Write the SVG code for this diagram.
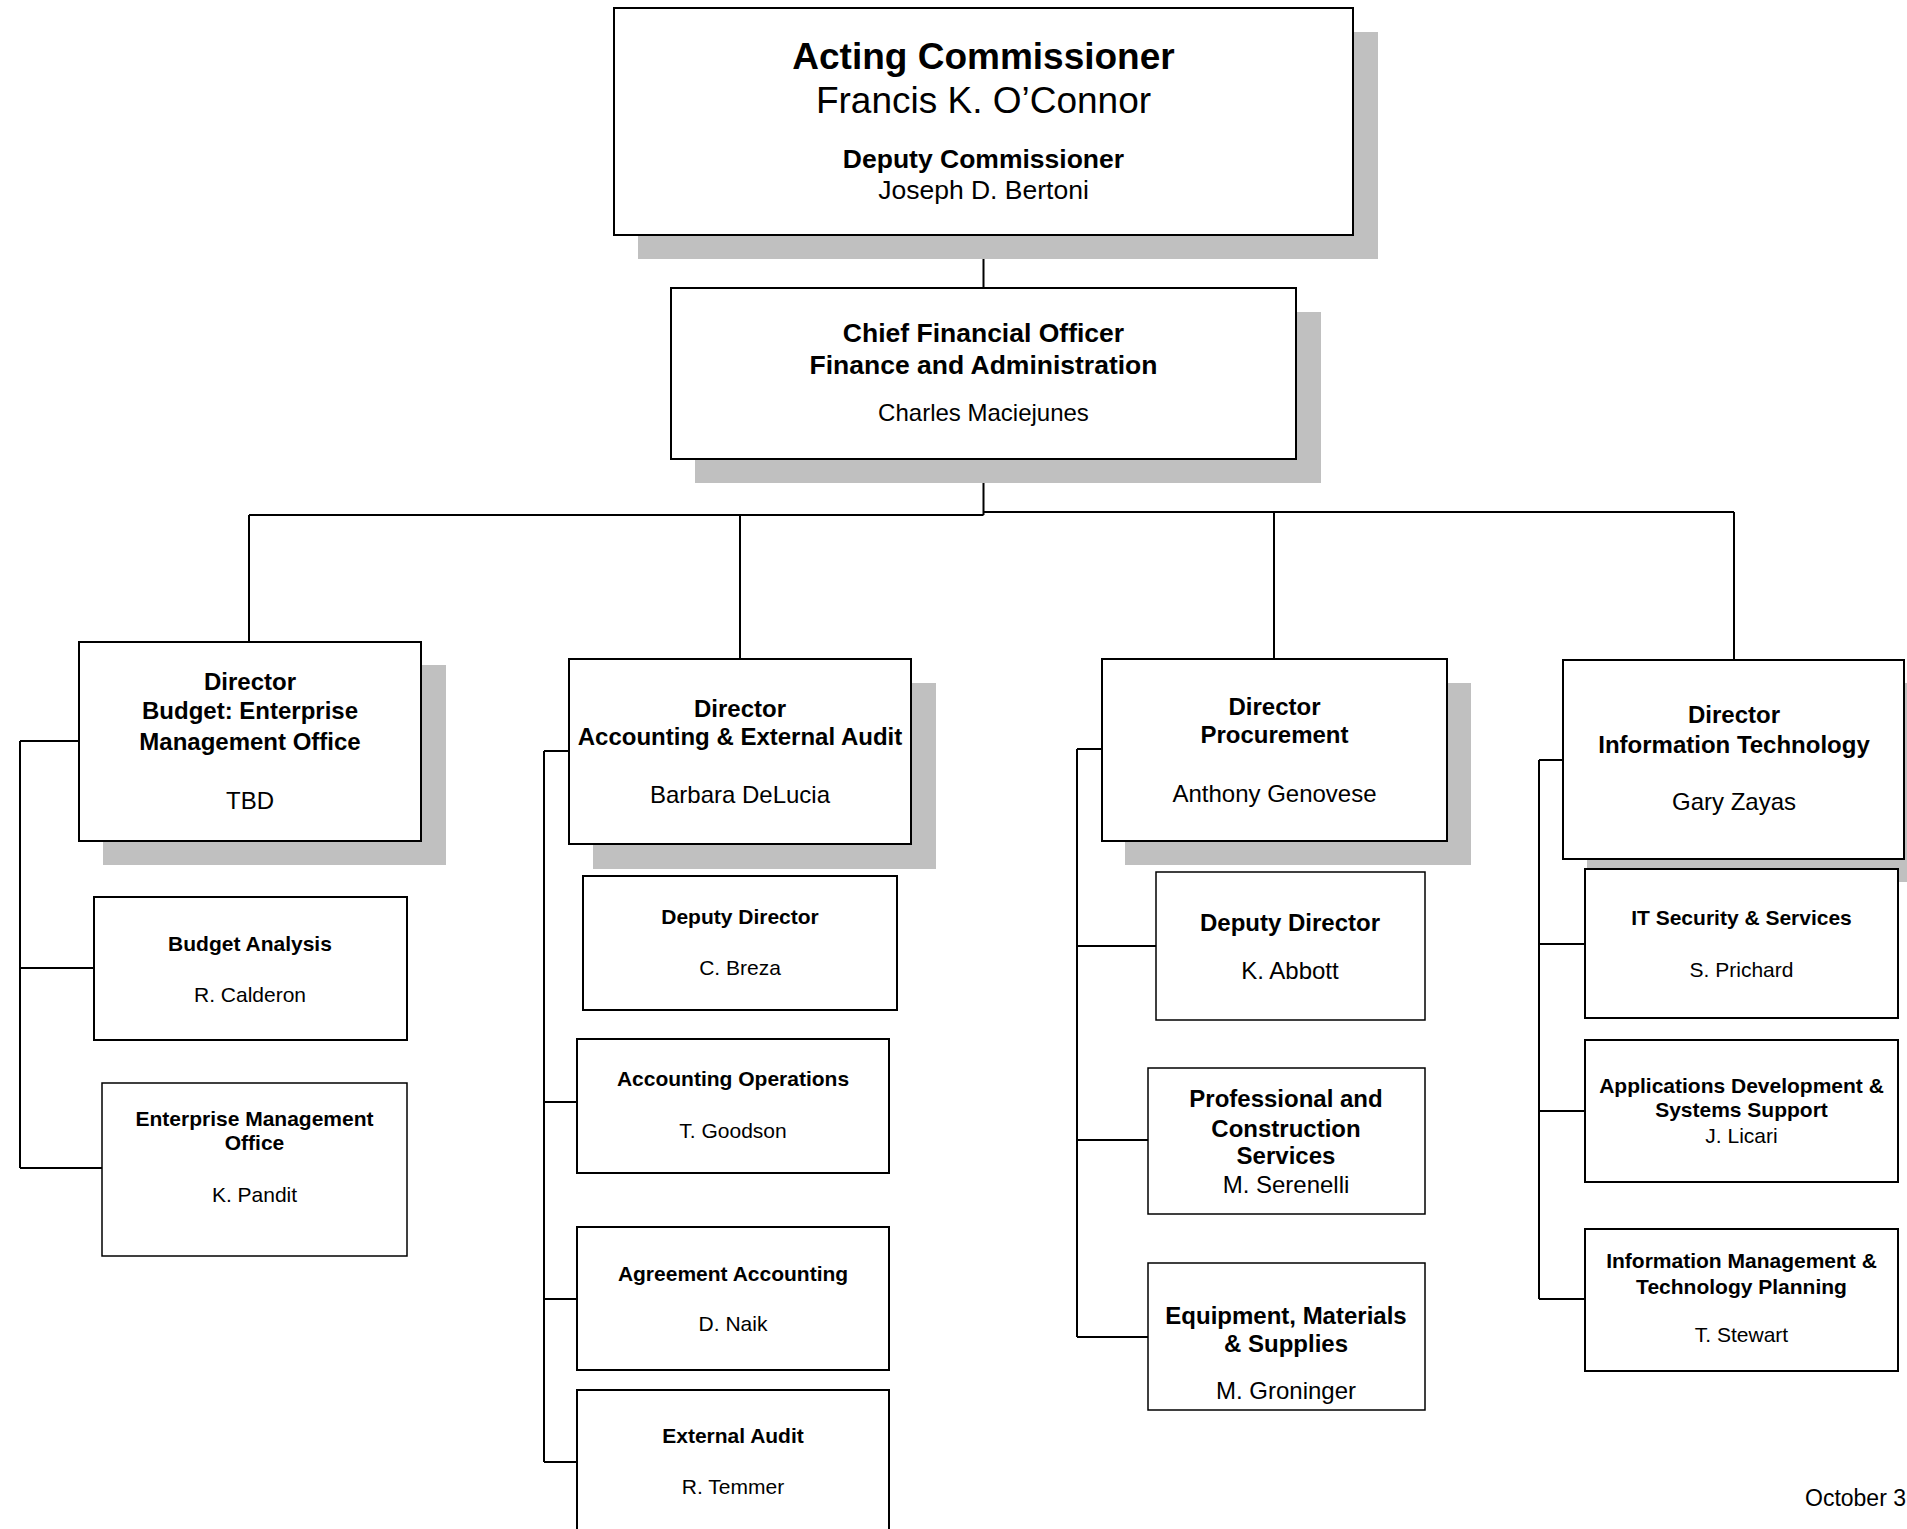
<svg xmlns="http://www.w3.org/2000/svg" width="1907" height="1529" viewBox="0 0 1907 1529">
<style>
.sh{fill:#C0C0C0;stroke:none}
.bx{fill:#fff;stroke:#000;stroke-width:2}
.ln{fill:none;stroke:#000;stroke-width:2}
text{font-family:"Liberation Sans",Arial,sans-serif;fill:#000;text-anchor:middle}
.b{font-weight:bold}
.f37{font-size:37px}
.f26{font-size:26.5px}
.f24{font-size:24px}
.f21{font-size:21px}
</style>
<rect width="1907" height="1529" fill="#fff"/>
<g id="connectors">
<path class="ln" d="M983.5 235V288M983.5 459V515M249 515H983.5M249 515V642M740 515V659M983.5 512H1734M1274 512V659M1734 512V660"/>
<path class="ln" d="M20 741V1168M20 741H79M20 968H94M20 1168H102"/>
<path class="ln" d="M544 751V1462M544 751H569M544 1102H577M544 1299H577M544 1462H577"/>
<path class="ln" d="M1077 749V1337M1077 749H1102M1077 946H1156M1077 1140H1148M1077 1337H1148"/>
<path class="ln" d="M1539 760V1299M1539 760H1563M1539 944H1585M1539 1111H1585M1539 1299H1585"/>
</g>
<g id="n-commissioner">
<rect class="sh" x="638" y="32" width="740" height="227"/>
<rect class="bx" x="614" y="8" width="739" height="227"/>
<text class="b f37" x="983.5" y="68.5">Acting Commissioner</text>
<text class="f37" x="983.5" y="113">Francis K. O’Connor</text>
<text class="b f26" x="983.5" y="167.5">Deputy Commissioner</text>
<text class="f26" x="983.5" y="199">Joseph D. Bertoni</text>
</g>
<g id="n-cfo">
<rect class="sh" x="695" y="312" width="626" height="171"/>
<rect class="bx" x="671" y="288" width="625" height="171"/>
<text class="b f26" x="983.5" y="341.5">Chief Financial Officer</text>
<text class="b f26" x="983.5" y="373.5">Finance and Administration</text>
<text class="f24" x="983.5" y="420.5">Charles Maciejunes</text>
</g>
<g id="n-budget">
<rect class="sh" x="103" y="665" width="343" height="200"/>
<rect class="bx" x="79" y="642" width="342" height="199"/>
<text class="b f24" x="250" y="690">Director</text>
<text class="b f24" x="250" y="718.5">Budget: Enterprise</text>
<text class="b f24" x="250" y="750">Management Office</text>
<text class="f24" x="250" y="808.5">TBD</text>
</g>
<g id="n-budget-analysis">
<rect class="bx" x="94" y="897" width="313" height="143"/>
<text class="b f21" x="250" y="950.5">Budget Analysis</text>
<text class="f21" x="250" y="1001.5">R. Calderon</text>
</g>
<g id="n-emo">
<rect class="bx" x="102" y="1083" width="305" height="173" style="stroke-width:1.5"/>
<text class="b f21" x="254.5" y="1126">Enterprise Management</text>
<text class="b f21" x="254.5" y="1149.5">Office</text>
<text class="f21" x="254.5" y="1201.5">K. Pandit</text>
</g>
<g id="n-accounting">
<rect class="sh" x="593" y="683" width="343" height="186"/>
<rect class="bx" x="569" y="659" width="342" height="185"/>
<text class="b f24" x="740" y="716.5">Director</text>
<text class="b f24" x="740" y="745">Accounting &amp; External Audit</text>
<text class="f24" x="740" y="803">Barbara DeLucia</text>
</g>
<g id="n-acc-deputy">
<rect class="bx" x="583" y="876" width="314" height="134"/>
<text class="b f21" x="740" y="924">Deputy Director</text>
<text class="f21" x="740" y="974.5">C. Breza</text>
</g>
<g id="n-acc-ops">
<rect class="bx" x="577" y="1039" width="312" height="134"/>
<text class="b f21" x="733" y="1086">Accounting Operations</text>
<text class="f21" x="733" y="1138">T. Goodson</text>
</g>
<g id="n-agreement">
<rect class="bx" x="577" y="1227" width="312" height="143"/>
<text class="b f21" x="733" y="1281">Agreement Accounting</text>
<text class="f21" x="733" y="1331">D. Naik</text>
</g>
<g id="n-external-audit">
<rect class="bx" x="577" y="1390" width="312" height="160"/>
<text class="b f21" x="733" y="1443">External Audit</text>
<text class="f21" x="733" y="1493.5">R. Temmer</text>
</g>
<g id="n-procurement">
<rect class="sh" x="1125" y="683" width="346" height="182"/>
<rect class="bx" x="1102" y="659" width="345" height="182"/>
<text class="b f24" x="1274.5" y="714.5">Director</text>
<text class="b f24" x="1274.5" y="743">Procurement</text>
<text class="f24" x="1274.5" y="802">Anthony Genovese</text>
</g>
<g id="n-proc-deputy">
<rect class="bx" x="1156" y="872" width="269" height="148" style="stroke-width:1.5"/>
<text class="b f24" x="1290" y="931">Deputy Director</text>
<text class="f24" x="1290" y="979">K. Abbott</text>
</g>
<g id="n-professional">
<rect class="bx" x="1148" y="1068" width="277" height="146" style="stroke-width:1.5"/>
<text class="b f24" x="1286" y="1107">Professional and</text>
<text class="b f24" x="1286" y="1136.5">Construction</text>
<text class="b f24" x="1286" y="1164">Services</text>
<text class="f24" x="1286" y="1192.5">M. Serenelli</text>
</g>
<g id="n-equipment">
<rect class="bx" x="1148" y="1263" width="277" height="147" style="stroke-width:1.5"/>
<text class="b f24" x="1286" y="1323.5">Equipment, Materials</text>
<text class="b f24" x="1286" y="1352">&amp; Supplies</text>
<text class="f24" x="1286" y="1399">M. Groninger</text>
</g>
<g id="n-it">
<rect class="sh" x="1587" y="683" width="330" height="199"/>
<rect class="bx" x="1563" y="660" width="341" height="199"/>
<text class="b f24" x="1734" y="722.5">Director</text>
<text class="b f24" x="1734" y="752.5">Information Technology</text>
<text class="f24" x="1734" y="810">Gary Zayas</text>
</g>
<g id="n-it-security">
<rect class="bx" x="1585" y="869" width="313" height="149"/>
<text class="b f21" x="1741.5" y="925">IT Security &amp; Services</text>
<text class="f21" x="1741.5" y="976.5">S. Prichard</text>
</g>
<g id="n-appdev">
<rect class="bx" x="1585" y="1040" width="313" height="142"/>
<text class="b f21" x="1741.5" y="1093">Applications Development &amp;</text>
<text class="b f21" x="1741.5" y="1117">Systems Support</text>
<text class="f21" x="1741.5" y="1143">J. Licari</text>
</g>
<g id="n-infomgmt">
<rect class="bx" x="1585" y="1229" width="313" height="142"/>
<text class="b f21" x="1741.5" y="1268">Information Management &amp;</text>
<text class="b f21" x="1741.5" y="1294">Technology Planning</text>
<text class="f21" x="1741.5" y="1342">T. Stewart</text>
</g>
<text x="1805" y="1506" style="font-size:23px;text-anchor:start">October 3</text>
</svg>
